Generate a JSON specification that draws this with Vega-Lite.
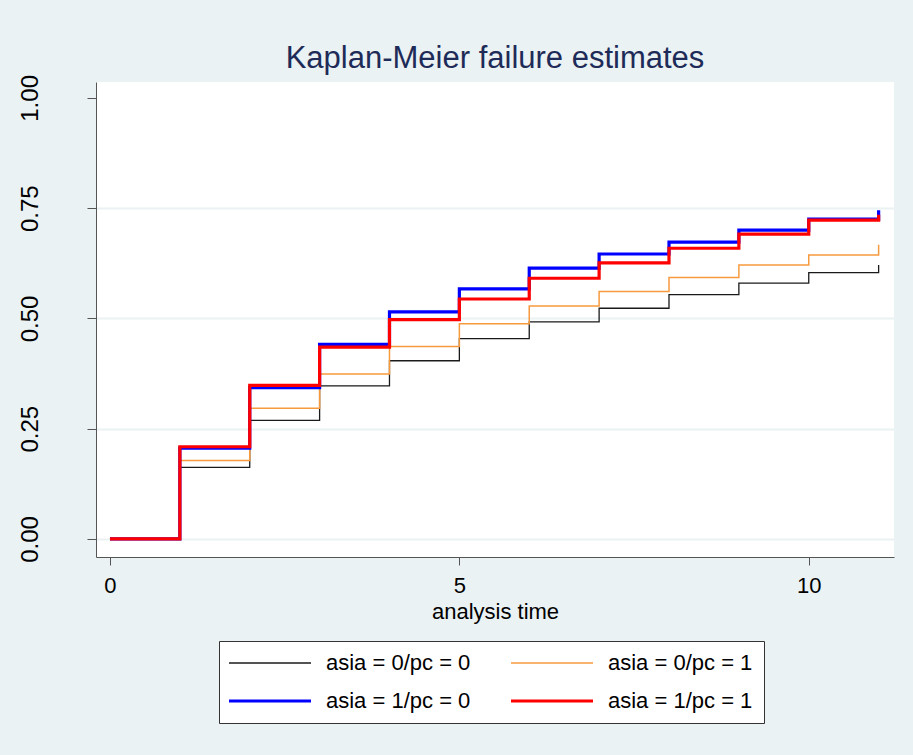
{
  "$schema": "https://vega.github.io/schema/vega-lite/v6.json",
  "width": 798,
  "height": 475,
  "autosize": {"type": "none"},
  "padding": {"left": 96, "top": 82, "right": 19, "bottom": 198},
  "background": "#EAF2F3",
  "config": {
    "font": "Liberation Sans",
    "view": {"fill": "white", "stroke": null},
    "legend": {
      "title": null,
      "orient": "none",
      "legendX": 123,
      "legendY": 559,
      "direction": "horizontal",
      "columns": 2,
      "symbolType": "M-1.3,0H6.9",
      "symbolSize": 400,
      "labelFontSize": 22,
      "labelColor": "black",
      "labelOffset": 72,
      "labelLimit": 300,
      "columnPadding": 33,
      "rowPadding": 15,
      "padding": 11,
      "fillColor": "white",
      "strokeColor": "#333333"
    }
  },
  "title": {
    "text": "Kaplan-Meier failure estimates",
    "fontSize": 31,
    "fontWeight": "normal",
    "color": "#1E2B58",
    "anchor": "middle",
    "baseline": "alphabetic",
    "offset": -24
  },
  "data": {
    "values": [
      {"group": "asia = 0/pc = 0", "time": 0, "failure": 0},
      {"group": "asia = 0/pc = 0", "time": 1, "failure": 0.162},
      {"group": "asia = 0/pc = 0", "time": 2, "failure": 0.269},
      {"group": "asia = 0/pc = 0", "time": 3, "failure": 0.347},
      {"group": "asia = 0/pc = 0", "time": 4, "failure": 0.404},
      {"group": "asia = 0/pc = 0", "time": 5, "failure": 0.454},
      {"group": "asia = 0/pc = 0", "time": 6, "failure": 0.492},
      {"group": "asia = 0/pc = 0", "time": 7, "failure": 0.523},
      {"group": "asia = 0/pc = 0", "time": 8, "failure": 0.554},
      {"group": "asia = 0/pc = 0", "time": 9, "failure": 0.580},
      {"group": "asia = 0/pc = 0", "time": 10, "failure": 0.604},
      {"group": "asia = 0/pc = 0", "time": 11, "failure": 0.621},
      {"group": "asia = 0/pc = 1", "time": 0, "failure": 0},
      {"group": "asia = 0/pc = 1", "time": 1, "failure": 0.178},
      {"group": "asia = 0/pc = 1", "time": 2, "failure": 0.296},
      {"group": "asia = 0/pc = 1", "time": 3, "failure": 0.374},
      {"group": "asia = 0/pc = 1", "time": 4, "failure": 0.436},
      {"group": "asia = 0/pc = 1", "time": 5, "failure": 0.488},
      {"group": "asia = 0/pc = 1", "time": 6, "failure": 0.528},
      {"group": "asia = 0/pc = 1", "time": 7, "failure": 0.561},
      {"group": "asia = 0/pc = 1", "time": 8, "failure": 0.593},
      {"group": "asia = 0/pc = 1", "time": 9, "failure": 0.621},
      {"group": "asia = 0/pc = 1", "time": 10, "failure": 0.644},
      {"group": "asia = 0/pc = 1", "time": 11, "failure": 0.667},
      {"group": "asia = 1/pc = 0", "time": 0, "failure": 0},
      {"group": "asia = 1/pc = 0", "time": 1, "failure": 0.206},
      {"group": "asia = 1/pc = 0", "time": 2, "failure": 0.343},
      {"group": "asia = 1/pc = 0", "time": 3, "failure": 0.441},
      {"group": "asia = 1/pc = 0", "time": 4, "failure": 0.515},
      {"group": "asia = 1/pc = 0", "time": 5, "failure": 0.567},
      {"group": "asia = 1/pc = 0", "time": 6, "failure": 0.614},
      {"group": "asia = 1/pc = 0", "time": 7, "failure": 0.646},
      {"group": "asia = 1/pc = 0", "time": 8, "failure": 0.673},
      {"group": "asia = 1/pc = 0", "time": 9, "failure": 0.700},
      {"group": "asia = 1/pc = 0", "time": 10, "failure": 0.725},
      {"group": "asia = 1/pc = 0", "time": 11, "failure": 0.745},
      {"group": "asia = 1/pc = 1", "time": 0, "failure": 0},
      {"group": "asia = 1/pc = 1", "time": 1, "failure": 0.209},
      {"group": "asia = 1/pc = 1", "time": 2, "failure": 0.348},
      {"group": "asia = 1/pc = 1", "time": 3, "failure": 0.435},
      {"group": "asia = 1/pc = 1", "time": 4, "failure": 0.497},
      {"group": "asia = 1/pc = 1", "time": 5, "failure": 0.544},
      {"group": "asia = 1/pc = 1", "time": 6, "failure": 0.591},
      {"group": "asia = 1/pc = 1", "time": 7, "failure": 0.626},
      {"group": "asia = 1/pc = 1", "time": 8, "failure": 0.659},
      {"group": "asia = 1/pc = 1", "time": 9, "failure": 0.691},
      {"group": "asia = 1/pc = 1", "time": 10, "failure": 0.723},
      {"group": "asia = 1/pc = 1", "time": 11, "failure": 0.735}
    ]
  },
  "mark": {"type": "line", "interpolate": "step-after"},
  "encoding": {
    "x": {
      "field": "time",
      "type": "quantitative",
      "scale": {"domain": [-0.2, 11.22], "nice": false, "zero": false},
      "axis": {
        "values": [0, 5, 10],
        "title": "analysis time",
        "titleFontSize": 22,
        "titleFontWeight": "normal",
        "titleColor": "black",
        "titlePadding": 5,
        "labelFontSize": 22,
        "labelColor": "black",
        "labelPadding": 10,
        "labelFlush": false,
        "tickSize": 8,
        "tickColor": "#555555",
        "domainColor": "#555555",
        "grid": false
      }
    },
    "y": {
      "field": "failure",
      "type": "quantitative",
      "scale": {"domain": [-0.041, 1.036], "nice": false, "zero": false},
      "axis": {
        "values": [0, 0.25, 0.5, 0.75, 1],
        "format": ".2f",
        "title": null,
        "labelAngle": -90,
        "labelAlign": "center",
        "labelBaseline": "alphabetic",
        "labelFontSize": 24,
        "labelColor": "black",
        "labelPadding": 50,
        "labelFlush": false,
        "labelOverlap": false,
        "tickSize": 9,
        "tickColor": "#555555",
        "domainColor": "#555555",
        "grid": true,
        "gridColor": "#EAF2F3",
        "gridWidth": 2,
        "gridOpacity": {"condition": {"test": "datum.value >= 1", "value": 0}, "value": 1}
      }
    },
    "color": {
      "field": "group",
      "type": "nominal",
      "scale": {
        "domain": ["asia = 0/pc = 0", "asia = 0/pc = 1", "asia = 1/pc = 0", "asia = 1/pc = 1"],
        "range": ["#1A1A1A", "#F79A3E", "#0000FF", "#FF0000"]
      }
    },
    "strokeWidth": {
      "field": "group",
      "type": "ordinal",
      "scale": {
        "type": "ordinal",
        "domain": ["asia = 0/pc = 0", "asia = 0/pc = 1", "asia = 1/pc = 0", "asia = 1/pc = 1"],
        "range": [1.3, 1.5, 3.2, 3.2]
      }
    }
  }
}
